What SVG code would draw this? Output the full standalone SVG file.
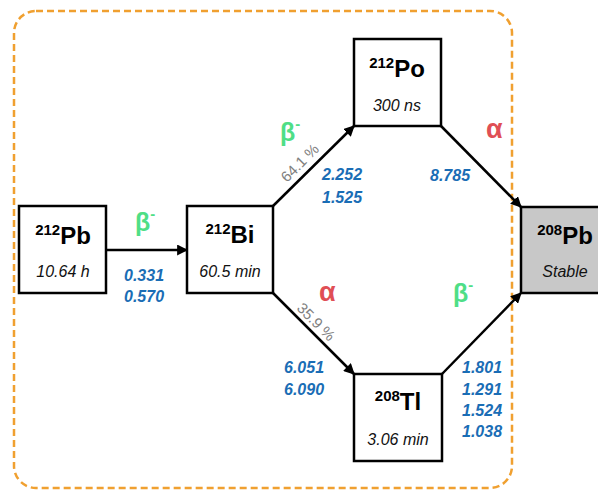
<svg xmlns="http://www.w3.org/2000/svg" width="598" height="490" viewBox="0 0 598 490">
<style>
.box{fill:#fff;stroke:#000;stroke-width:2.5}
.stable{fill:#c8c8c8;stroke:#000;stroke-width:2.5}
.name{font-family:"Liberation Sans",Arial,sans-serif;font-weight:bold;font-size:24px;fill:#000}
.sup{font-size:15px}
.life{font-family:"Liberation Sans",Arial,sans-serif;font-style:italic;font-size:16px;fill:#111}
.en{font-family:"Liberation Sans",Arial,sans-serif;font-style:italic;font-weight:bold;font-size:16px;fill:#1a6db5}
.beta{font-family:"Liberation Sans",Arial,sans-serif;font-weight:bold;font-size:25px;fill:#4fde86}
.alpha{font-family:"Liberation Sans",Arial,sans-serif;font-weight:bold;font-size:27px;fill:#e04f55}
.pct{font-family:"Liberation Sans",Arial,sans-serif;font-size:15px;fill:#808080}
.conn{stroke:#000;stroke-width:2.5;fill:none;marker-end:url(#arr)}
</style>
<defs>
<marker id="arr" viewBox="0 0 10 10" refX="9" refY="5" markerWidth="4.4" markerHeight="4.4" orient="auto" markerUnits="strokeWidth">
<path d="M0,0 L10,5 L0,10 z" fill="#000"/>
</marker>
</defs>
<rect x="14" y="11" width="498" height="477" rx="22" fill="none" stroke="#f0a030" stroke-width="2.5" stroke-dasharray="7 4"/>
<g id="connectors">
<line class="conn" x1="106" y1="250" x2="187" y2="250"/>
<line class="conn" x1="273" y1="206" x2="354" y2="126"/>
<line class="conn" x1="441" y1="126" x2="521" y2="207"/>
<line class="conn" x1="273" y1="293" x2="354" y2="374"/>
<line class="conn" x1="442" y1="374" x2="521" y2="293"/>
</g>
<g id="pb212">
<rect class="box" x="19" y="206" width="87" height="87"/>
<text class="name" x="63" y="244" text-anchor="middle"><tspan class="sup" dy="-9">212</tspan><tspan dy="9">Pb</tspan></text>
<text class="life" x="63" y="277" text-anchor="middle">10.64 h</text>
</g>
<g id="bi212">
<rect class="box" x="187" y="206" width="86" height="87"/>
<text class="name" x="230" y="243" text-anchor="middle"><tspan class="sup" dy="-9">212</tspan><tspan dy="9">Bi</tspan></text>
<text class="life" x="230" y="277" text-anchor="middle">60.5 min</text>
</g>
<g id="po212">
<rect class="box" x="354" y="39" width="87" height="87"/>
<text class="name" x="397" y="77" text-anchor="middle"><tspan class="sup" dy="-9">212</tspan><tspan dy="9">Po</tspan></text>
<text class="life" x="397" y="111" text-anchor="middle">300 ns</text>
</g>
<g id="tl208">
<rect class="box" x="354" y="374" width="88" height="87"/>
<text class="name" x="398" y="410" text-anchor="middle"><tspan class="sup" dy="-9">208</tspan><tspan dy="9">Tl</tspan></text>
<text class="life" x="398" y="445" text-anchor="middle">3.06 min</text>
</g>
<g id="pb208">
<rect class="stable" x="521" y="207" width="88" height="86"/>
<text class="name" x="565" y="244" text-anchor="middle"><tspan class="sup" dy="-9">208</tspan><tspan dy="9">Pb</tspan></text>
<text class="life" x="565" y="277" text-anchor="middle">Stable</text>
</g>
<g id="labels">
<text class="beta" x="135" y="231">β<tspan class="sup" dy="-12">-</tspan></text>
<text class="en" x="124" y="281">0.331</text>
<text class="en" x="124" y="302">0.570</text>
<text class="beta" x="280" y="141">β<tspan class="sup" dy="-12">-</tspan></text>
<text class="pct" transform="translate(300,163) rotate(-45)" x="0" y="5" text-anchor="middle">64.1 %</text>
<text class="en" x="322" y="180">2.252</text>
<text class="en" x="322" y="203">1.525</text>
<text class="alpha" x="486" y="138">α</text>
<text class="en" x="430" y="181">8.785</text>
<text class="alpha" x="319" y="301">α</text>
<text class="pct" transform="translate(316,322) rotate(45)" x="0" y="5" text-anchor="middle">35.9 %</text>
<text class="en" x="284" y="373">6.051</text>
<text class="en" x="284" y="395">6.090</text>
<text class="beta" x="453" y="302">β<tspan class="sup" dy="-12">-</tspan></text>
<text class="en" x="462" y="373">1.801</text>
<text class="en" x="462" y="395">1.291</text>
<text class="en" x="462" y="416">1.524</text>
<text class="en" x="462" y="437">1.038</text>
</g>
</svg>
